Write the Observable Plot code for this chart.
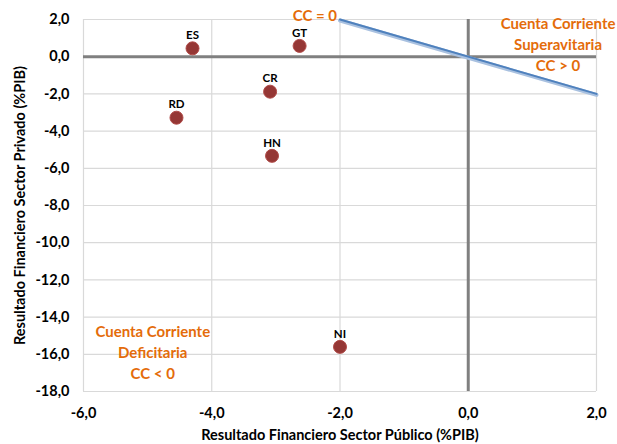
<!DOCTYPE html>
<html><head><meta charset="utf-8">
<script src="https://cdn.jsdelivr.net/npm/d3@7"></script>
<script src="https://cdn.jsdelivr.net/npm/@observablehq/plot@0.6"></script>
<style>body{margin:0;background:#fff;} svg{font-family:Lato,"Open Sans",sans-serif;}</style>
</head><body><div id="chart"></div>
<script>
const countries = ["ES", "GT", "CR", "RD", "HN", "NI"];
const publicBalance = [-4.30, -2.63, -3.09, -4.55, -3.06, -2.00];
const privateBalance = [0.45, 0.58, -1.88, -3.28, -5.33, -15.6];
const ccLineX = [-2, 2];
const ccLineY = [2, -2];
const xTicks = [-6, -4, -2, 0, 2];
const yTicks = [2, 0, -2, -4, -6, -8, -10, -12, -14, -16, -18];
const annoText = ["CC = 0", "Cuenta Corriente\nSuperavitaria\nCC > 0", "Cuenta Corriente\nDeficitaria\nCC < 0"];
const annoX = [-2, 1.4, -4.92];
const annoY = [2, 0.7, -15.86];
const annoAnchor = ["end", "middle", "middle"];

const pts = countries.map((c, i) => ({c, x: publicBalance[i], y: privateBalance[i]}));
const line = ccLineX.map((x, i) => ({x, y: ccLineY[i]}));
const annos = annoText.map((t, i) => ({t, x: annoX[i], y: annoY[i], a: annoAnchor[i]}));
const fmt = v => v.toFixed(1).replace(".", ",");
const orange = "#E46C0A";

const chart = Plot.plot({
  width: 617, height: 444,
  marginLeft: 83, marginRight: 21, marginTop: 19, marginBottom: 53,
  x: {domain: [-6, 2]},
  y: {domain: [-18, 2]},
  style: {fontFamily: "Lato, 'Open Sans', sans-serif"},
  marks: [
    Plot.gridX(xTicks, {stroke: "#d9d9d9", strokeOpacity: 1, strokeWidth: 1.2}),
    Plot.gridY(yTicks, {stroke: "#d9d9d9", strokeOpacity: 1, strokeWidth: 1.2}),
    Plot.ruleX([0], {stroke: "#808080", strokeWidth: 3}),
    Plot.ruleY([0], {stroke: "#808080", strokeWidth: 3}),
    Plot.axisX(xTicks, {tickSize: 0, tickPadding: 16, tickFormat: fmt, fontSize: 14.5, fontWeight: "bold", fill: "#000", label: null}),
    Plot.axisY(yTicks, {tickSize: 0, tickPadding: 14, tickFormat: fmt, fontSize: 14.5, fontWeight: "bold", fill: "#000", label: null}),
    Plot.text(["Resultado Financiero Sector Público (%PIB)"], {frameAnchor: "bottom", dy: 48, fontSize: 14.5, fontWeight: "bold", fill: "#000"}),
    Plot.text(["Resultado Financiero Sector Privado (%PIB)"], {frameAnchor: "left", textAnchor: "middle", dx: -63, rotate: -90, fontSize: 14.5, fontWeight: "bold", fill: "#000"}),
    Plot.line(line, {x: "x", y: "y", stroke: "#a9c1e0", strokeWidth: 4, dy: 1}),
    Plot.line(line, {x: "x", y: "y", stroke: "#4F81BD", strokeWidth: 2}),
    Plot.dot(pts, {x: "x", y: "y", r: 6.5, fill: "#953735", stroke: "#b04a47", strokeWidth: 1}),
    Plot.text(pts, {x: "x", y: "y", text: "c", dy: -13, fontSize: 11.5, fontWeight: "bold", fill: "#000"}),
    Plot.text(annos, {x: "x", y: "y", text: "t", textAnchor: "end", filter: d => d.a === "end", dx: -3, dy: -3, fontSize: 15, fontWeight: "bold", fill: orange}),
    Plot.text(annos, {x: "x", y: "y", text: "t", filter: d => d.a === "middle", lineHeight: 1.4, fontSize: 15, fontWeight: "bold", fill: orange})
  ]
});
document.getElementById("chart").appendChild(chart);
</script></body></html>
